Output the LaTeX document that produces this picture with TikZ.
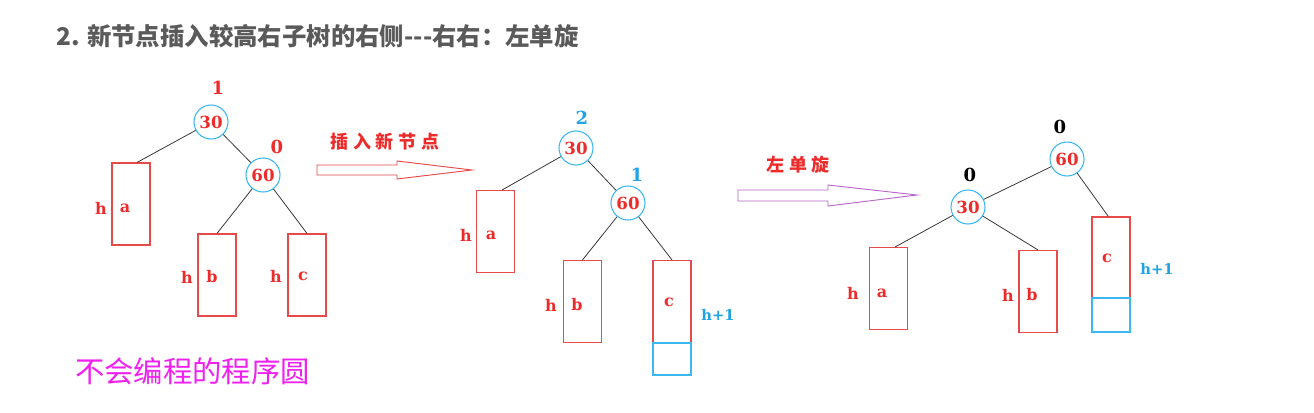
\documentclass[tikz,border=0pt]{standalone}
\usepackage{fontspec}
\newfontfamily\cjk{Noto Sans CJK SC}
\newfontfamily\lserif{DejaVu Serif}
\definecolor{tred}{HTML}{EE2B2B}
\definecolor{bred}{HTML}{E84A4A}
\definecolor{cblue}{HTML}{3CB8F0}
\definecolor{tblue}{HTML}{1FA3E3}
\definecolor{tgray}{HTML}{5A5A5A}
\definecolor{apurple}{HTML}{B868C8}
\definecolor{tmag}{HTML}{F020F0}
\definecolor{edgec}{HTML}{3A3A3A}
\tikzset{
  keynode/.style={circle,draw=cblue,line width=0.8pt,minimum size=25.5pt,inner sep=0pt,text=tred,font=\lserif\bfseries\fontsize{12.5}{12.5}\selectfont},
  subtree/.style={rectangle,draw=bred,line width=0.85pt,minimum width=28.5pt,minimum height=61.5pt,inner sep=0pt},
  growbox/.style={rectangle,draw=cblue,line width=0.85pt,minimum width=28.5pt,inner sep=0pt},
  lbl/.style={text=tred,inner sep=0pt,font=\lserif\bfseries\fontsize{12}{12}\selectfont},
  hlbl/.style={text=tblue,inner sep=0pt,font=\lserif\bfseries\fontsize{11}{11}\selectfont},
  bal/.style={inner sep=0pt,font=\lserif\bfseries\fontsize{13.5}{13.5}\selectfont},
  edge/.style={draw=edgec,line width=0.6pt}
}
\begin{document}
\begin{tikzpicture}[x=0.75pt,y=-0.75pt]
\useasboundingbox[fill=white] (0,0) rectangle (1314,412);
% title
\node[anchor=west,inner sep=0pt,text=tgray,font=\cjk\bfseries\fontsize{18.3}{18.3}\selectfont] (title) at (56,36) {2. 新节点插入较高右子树的右侧---右右：左单旋};
% ---------- tree 1 ----------
\node[keynode] (t1r) at (211,122) {30};
\node[keynode] (t1s) at (263,175) {60};
\node[bal,text=tred] (t1rb) at (218,88) {1};
\node[bal,text=tred] (t1sb) at (277,147) {0};
\node[subtree] (t1a) at (131,204) {};
\node[subtree] (t1b) at (217,275) {};
\node[subtree] (t1c) at (307,275) {};
\node[lbl] (t1ah) at (101,208) {h};
\node[lbl] (t1al) at (125,208) {a};
\node[lbl] (t1bh) at (187,277) {h};
\node[lbl] (t1bl) at (212,277) {b};
\node[lbl] (t1ch) at (276,276) {h};
\node[lbl] (t1cl) at (303,276) {c};
\draw[edge] (t1r) -- (t1s);
\draw[edge] (t1r) -- ([xshift=4.5pt]t1a.north);
\draw[edge] (t1s) -- (t1b.north);
\draw[edge] (t1s) -- (t1c.north);
% ---------- arrow 1 ----------
\draw[bred,line width=0.7pt,line join=miter] (317,165) -- (397,165) -- (397,161) -- (472,170) -- (397,179) -- (397,175) -- (317,175) -- cycle;
\node[text=tred,inner sep=0pt,font=\cjk\bfseries\fontsize{13.5}{13.5}\selectfont] (arr1l) at (385,142) {插\kern3.5pt 入\kern3.5pt 新\kern3.5pt 节\kern3.5pt 点};
% ---------- tree 2 ----------
\node[keynode] (t2r) at (576,148) {30};
\node[keynode] (t2s) at (628,203) {60};
\node[bal,text=tblue] (t2rb) at (582,118) {2};
\node[bal,text=tblue] (t2sb) at (637,175) {1};
\node[subtree] (t2a) at (495.5,231.5) {};
\node[subtree] (t2b) at (582.5,301.5) {};
\node[subtree] (t2c) at (672,301.5) {};
\node[growbox,minimum height=24pt] (t2n) at (672,359) {};
\node[lbl] (t2ah) at (466,235) {h};
\node[lbl] (t2al) at (491,235) {a};
\node[lbl] (t2bh) at (551,305) {h};
\node[lbl] (t2bl) at (577,305) {b};
\node[lbl] (t2cl) at (669,302) {c};
\node[hlbl] (t2hp) at (718,315) {h+1};
\draw[edge] (t2r) -- (t2s);
\draw[edge] (t2r) -- ([xshift=5pt]t2a.north);
\draw[edge] (t2s) -- (t2b.north);
\draw[edge] (t2s) -- (t2c.north);
% ---------- arrow 2 ----------
\draw[apurple,line width=0.7pt,line join=miter] (738,190) -- (828,190) -- (828,185) -- (917,195) -- (828,206) -- (828,201) -- (738,201) -- cycle;
\node[text=tred,inner sep=0pt,font=\cjk\bfseries\fontsize{13.5}{13.5}\selectfont] (arr2l) at (798,165) {左\kern3.5pt 单\kern3.5pt 旋};
% ---------- tree 3 ----------
\node[keynode] (t3r) at (1067,159) {60};
\node[keynode] (t3s) at (968,207) {30};
\node[bal,text=black] (t3rb) at (1060,127) {0};
\node[bal,text=black] (t3sb) at (970,175) {0};
\node[subtree] (t3a) at (888.5,288.5) {};
\node[subtree] (t3b) at (1038,291.5) {};
\node[subtree,minimum height=60.75pt] (t3c) at (1111,257.5) {};
\node[growbox,minimum height=25.5pt] (t3n) at (1111,315) {};
\node[lbl] (t3ah) at (853,293) {h};
\node[lbl] (t3al) at (882,293) {a};
\node[lbl] (t3bh) at (1008,295) {h};
\node[lbl] (t3bl) at (1032,295) {b};
\node[lbl] (t3cl) at (1107,258) {c};
\node[hlbl] (t3hp) at (1157,269) {h+1};
\draw[edge] (t3r) -- (t3s);
\draw[edge] (t3r) -- ([xshift=-2pt]t3c.north);
\draw[edge] (t3s) -- ([xshift=5pt]t3a.north);
\draw[edge] (t3s) -- (t3b.north);
% footer
\node[anchor=west,inner sep=0pt,text=tmag,font=\cjk\fontsize{22}{22}\selectfont] (foot) at (75,371) {不会编程的程序圆};
\end{tikzpicture}
\end{document}
